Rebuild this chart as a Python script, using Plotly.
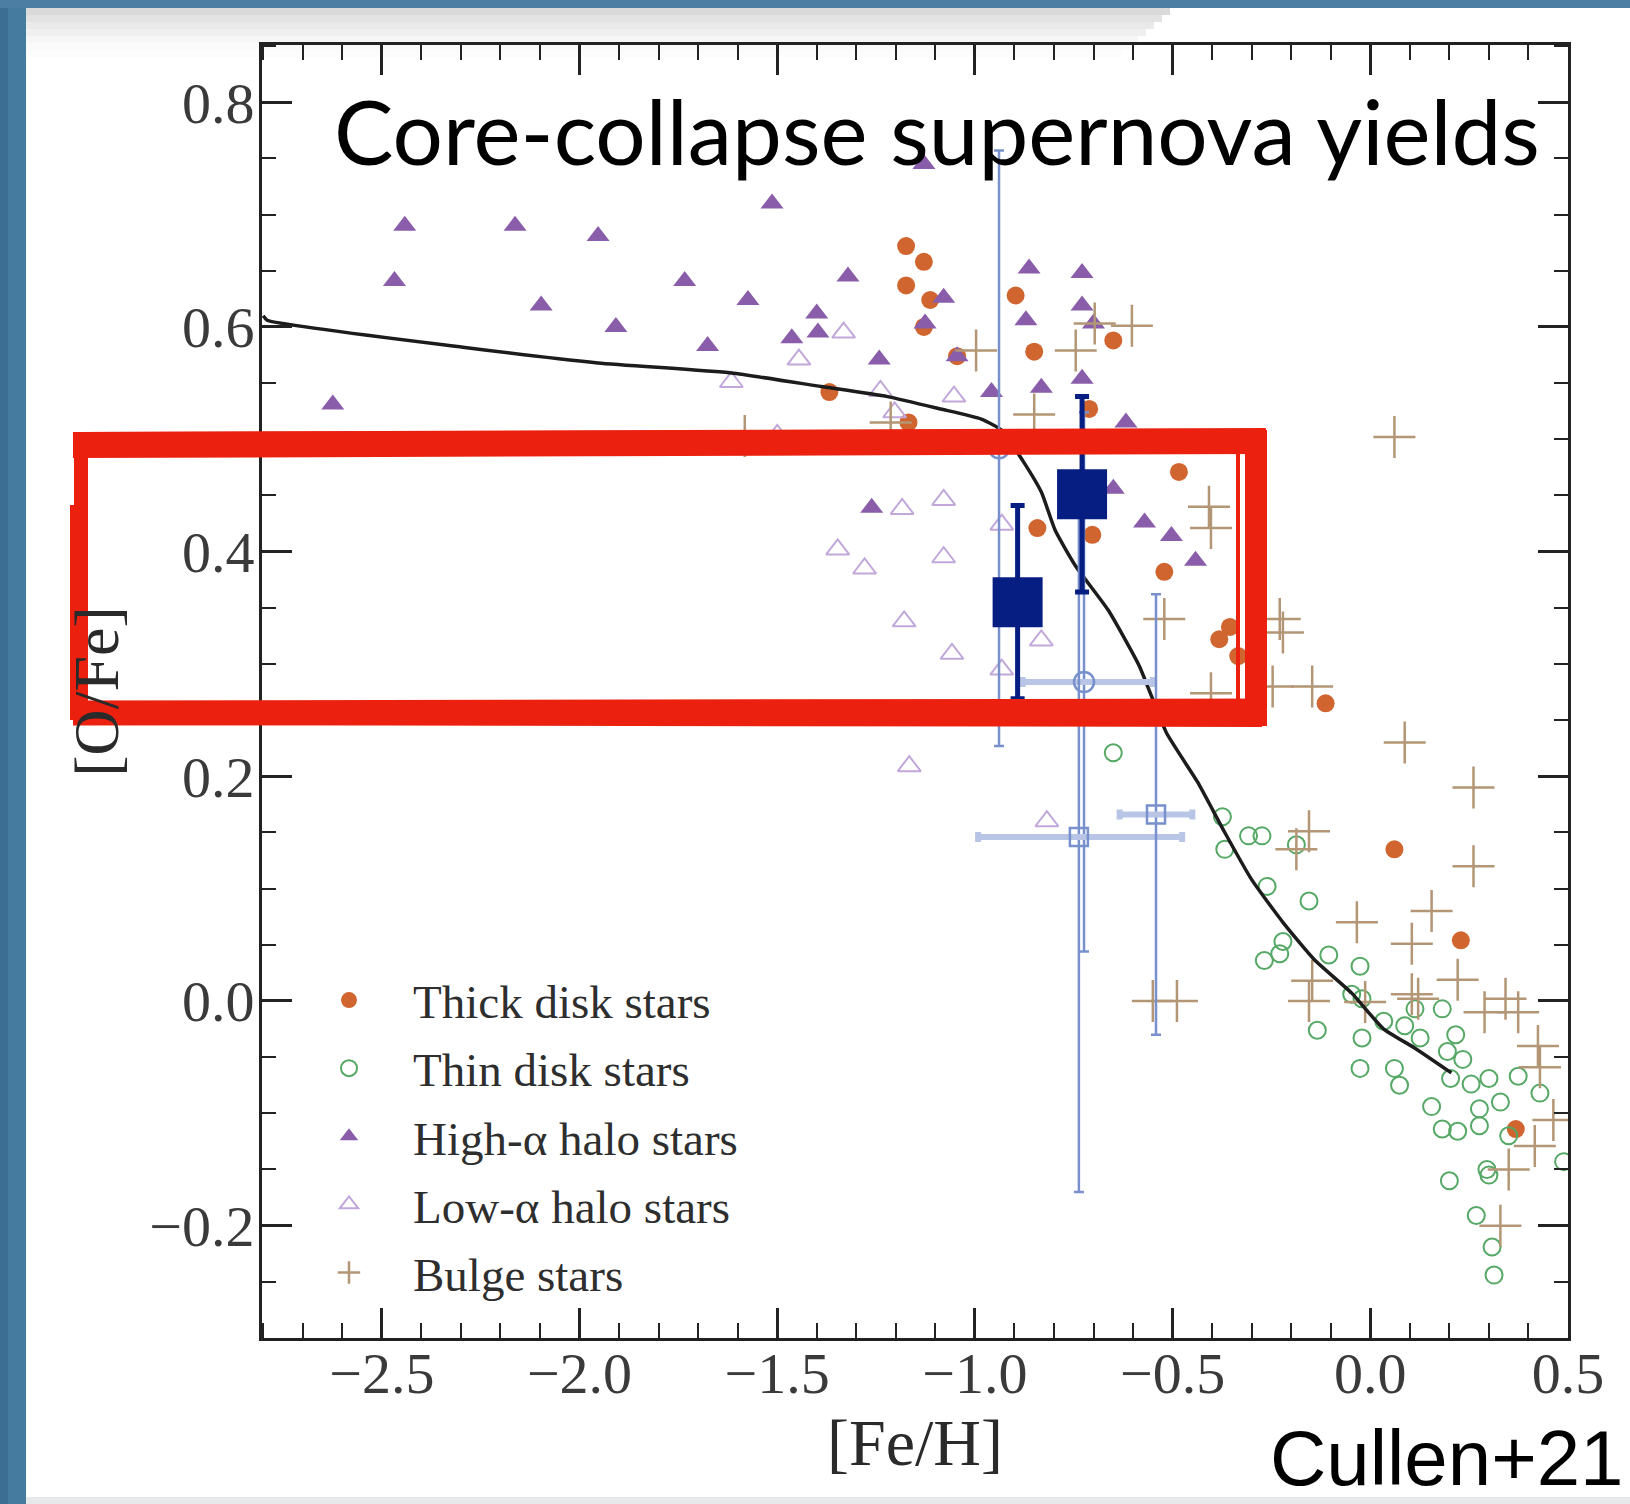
import plotly.graph_objects as go

# ---------------- data ----------------
thick_x = [-1.174, -1.129, -1.174, -1.113, -1.129, -1.045, -0.897, -0.850, -0.650, -0.711,
           -1.368, -1.168, -0.484, -0.842, -0.703, -0.521, -0.382, -0.355, -0.334, -0.113,
           0.061, 0.229, 0.368]
thick_y = [0.672, 0.658, 0.637, 0.624, 0.600, 0.574, 0.628, 0.578, 0.588, 0.527,
           0.542, 0.515, 0.471, 0.421, 0.415, 0.382, 0.322, 0.333, 0.307, 0.265,
           0.135, 0.054, -0.114]

thin_x = [-0.650, -0.374, -0.308, -0.274, -0.368, -0.187, -0.261, -0.155, -0.268, -0.229,
          -0.221, -0.105, -0.026, -0.047, -0.021, -0.134, -0.021, 0.034, 0.087, 0.113,
          0.182, 0.126, 0.216, -0.026, 0.061, 0.074, 0.195, 0.234, 0.203, 0.255,
          0.300, 0.374, 0.429, 0.155, 0.276, 0.329, 0.182, 0.221, 0.276, 0.350,
          0.489, 0.200, 0.295, 0.300, 0.268, 0.308, 0.313]
thin_y = [0.221, 0.164, 0.147, 0.147, 0.135, 0.139, 0.102, 0.089, 0.036, 0.042,
          0.053, 0.041, 0.031, 0.006, 0.002, -0.026, -0.033, -0.018, -0.022, -0.007,
          -0.007, -0.033, -0.030, -0.060, -0.060, -0.075, -0.045, -0.052, -0.069, -0.074,
          -0.069, -0.067, -0.082, -0.094, -0.096, -0.090, -0.114, -0.116, -0.111, -0.120,
          -0.143, -0.160, -0.150, -0.155, -0.191, -0.219, -0.244]

high_x = [-2.442, -2.163, -1.953, -1.513, -1.129, -2.468, -2.097, -1.908, -1.734, -1.574,
          -1.321, -1.400, -1.463, -1.397, -1.676, -1.242, -2.624, -1.079, -0.863, -0.729,
          -0.729, -0.871, -0.700, -0.958, -0.832, -0.729, -1.261, -0.571, -0.503, -0.442,
          -0.618, -0.650, -1.126, -1.045]
high_y = [0.690, 0.690, 0.681, 0.710, 0.745, 0.641, 0.619, 0.600, 0.641, 0.624,
          0.645, 0.612, 0.590, 0.595, 0.583, 0.571, 0.531, 0.626, 0.652, 0.648,
          0.619, 0.606, 0.603, 0.542, 0.546, 0.554, 0.439, 0.426, 0.414, 0.392,
          0.515, 0.456, 0.603, 0.574]

low_x = [-1.332, -1.445, -1.616, -1.053, -1.203, -1.500, -1.184, -1.079, -1.347, -1.279,
         -1.079, -1.179, -1.058, -0.932, -0.932, -0.832, -1.166, -0.818, -1.239]
low_y = [0.595, 0.571, 0.551, 0.538, 0.524, 0.504, 0.438, 0.446, 0.402, 0.385,
         0.395, 0.338, 0.309, 0.295, 0.424, 0.321, 0.209, 0.160, 0.543]

bulge_x = [-0.997, -0.697, -0.603, -0.745, -0.850, -1.213, -1.582, 0.061, -0.408, -0.403,
           -0.521, -0.229, -0.221, -0.403, -0.247, -0.147, 0.087, 0.261, -0.155, -0.187,
           0.261, 0.155, -0.034, 0.105, 0.221, -0.147, -0.550, -0.489, -0.155, -0.013,
           0.105, 0.121, 0.289, 0.342, 0.374, 0.424, 0.429, 0.463, 0.416, 0.350, 0.329]
bulge_y = [0.579, 0.603, 0.601, 0.579, 0.522, 0.515, 0.503, 0.502, 0.440, 0.421,
           0.340, 0.340, 0.328, 0.274, 0.280, 0.280, 0.230, 0.190, 0.151, 0.135,
           0.120, 0.080, 0.070, 0.051, 0.019, 0.018, 0.000, 0.000, 0.000, -0.001,
           0.006, 0.002, -0.010, 0.002, -0.010, -0.040, -0.059, -0.106, -0.129, -0.150, -0.200]

# model curve
model_x = [-2.80, -2.79, -2.295, -1.953, -1.616, -1.389, -1.221, -1.087, -0.984, -0.932,
           -0.879, -0.832, -0.797, -0.745, -0.663, -0.584, -0.516, -0.437, -0.368, -0.300,
           -0.221, -0.142, -0.047, 0.034, 0.113, 0.205]
model_y = [0.610, 0.606, 0.582, 0.568, 0.559, 0.547, 0.538, 0.527, 0.518, 0.508,
           0.481, 0.453, 0.419, 0.387, 0.348, 0.298, 0.239, 0.195, 0.150, 0.108,
           0.070, 0.037, 0.007, -0.025, -0.042, -0.064]

# Cullen+21 measurements (filled squares)
cullen_x = [-0.892, -0.729]
cullen_y = [0.355, 0.451]
cullen_yerr = [0.086, 0.087]
cullen_xerr = [0.045, 0.045]

# literature points (open symbols, light blue)
lit_circ_x = [-0.939, -0.724]
lit_circ_y = [0.492, 0.284]
lit_circ_xerr_plus = [0.0, 0.174]
lit_circ_xerr_minus = [0.0, 0.155]
lit_circ_yerr = [0.265, 0.240]

lit_sq_x = [-0.737, -0.542]
lit_sq_y = [0.146, 0.166]
lit_sq_xerr_plus = [0.261, 0.092]
lit_sq_xerr_minus = [0.255, 0.092]
lit_sq_yerr_plus = [0.316, 0.196]
lit_sq_yerr_minus = [0.316, 0.196]

x_range = [-2.803, 0.5]
y_range = [-0.30, 0.851]

# ---------------- layout helpers ----------------
W, H = 1630, 1504
L, R, T, B = 262, 1568, 45, 1338


def px(x):
    return (x - L) / (R - L)


def py(y):
    return (B - y) / (B - T)


SERIF = "Liberation Serif, DejaVu Serif, serif"
C_THICK = "#d0652f"
C_THIN = "#55a865"
C_HIGH = "#8a5daa"
C_LOW = "#c2a8da"
C_BULGE = "#b39675"
C_NAVY = "#061d82"
C_LIGHTBLUE = "#7890cc"

fig = go.Figure()

fig.add_trace(go.Scatter(x=thick_x, y=thick_y, mode="markers", name="Thick disk stars",
                         legendgroup="a",
                         marker=dict(symbol="circle", size=18, color=C_THICK)))
fig.add_trace(go.Scatter(x=thin_x, y=thin_y, mode="markers", name="Thin disk stars",
                         legendgroup="b",
                         marker=dict(symbol="circle-open", size=17, color=C_THIN,
                                     line=dict(width=2, color=C_THIN))))
fig.add_trace(go.Scatter(x=high_x, y=high_y, mode="markers", name="High-α halo stars",
                         legendgroup="c",
                         marker=dict(symbol="triangle-up", size=20, color=C_HIGH)))
fig.add_trace(go.Scatter(x=low_x, y=low_y, mode="markers", name="Low-α halo stars",
                         legendgroup="d",
                         marker=dict(symbol="triangle-up-open", size=20, color=C_LOW,
                                     line=dict(width=2, color=C_LOW))))
fig.add_trace(go.Scatter(x=bulge_x, y=bulge_y, mode="markers", name="Bulge stars",
                         legendgroup="e",
                         marker=dict(symbol="cross-thin", size=30, color=C_BULGE,
                                     line=dict(width=2.5, color=C_BULGE))))

fig.add_trace(go.Scatter(x=model_x, y=model_y, mode="lines", showlegend=False,
                         line=dict(color="#1c1c1c", width=3.5, shape="spline", smoothing=0.5)))

fig.add_trace(go.Scatter(x=lit_circ_x, y=lit_circ_y, mode="markers", showlegend=False,
                         marker=dict(symbol="circle-open", size=20, color=C_LIGHTBLUE,
                                     line=dict(width=2.5, color=C_LIGHTBLUE)),
                         error_x=dict(type="data", array=lit_circ_xerr_plus,
                                      arrayminus=lit_circ_xerr_minus, color="#b8c5e6",
                                      thickness=6, width=5),
                         error_y=dict(type="data", array=lit_circ_yerr, color=C_LIGHTBLUE,
                                      thickness=2.5, width=5)))
fig.add_trace(go.Scatter(x=lit_sq_x, y=lit_sq_y, mode="markers", showlegend=False,
                         marker=dict(symbol="square-open", size=18, color=C_LIGHTBLUE,
                                     line=dict(width=2.5, color=C_LIGHTBLUE)),
                         error_x=dict(type="data", array=lit_sq_xerr_plus,
                                      arrayminus=lit_sq_xerr_minus, color="#b8c5e6",
                                      thickness=6, width=5),
                         error_y=dict(type="data", array=lit_sq_yerr_plus,
                                      arrayminus=lit_sq_yerr_minus, color=C_LIGHTBLUE,
                                      thickness=2.5, width=5)))
fig.add_trace(go.Scatter(x=cullen_x, y=cullen_y, mode="markers", showlegend=False,
                         marker=dict(symbol="square", size=50, color=C_NAVY),
                         error_x=dict(type="data", array=cullen_xerr, color=C_NAVY,
                                      thickness=5, width=0),
                         error_y=dict(type="data", array=cullen_yerr, color=C_NAVY,
                                      thickness=5, width=7)))

axis_common = dict(showline=True, linecolor="#222222", linewidth=3, mirror="ticks",
                   ticks="inside", tickwidth=2.5, tickcolor="#222222", ticklen=30,
                   showgrid=False, zeroline=False, tickformat=".1f",
                   tickfont=dict(family=SERIF, size=58, color="#3a3a3a"))

fig.update_xaxes(range=x_range, dtick=0.5, tick0=0, ticklabelstandoff=-18,
                 minor=dict(ticks="inside", ticklen=15, dtick=0.1, tick0=0,
                            tickwidth=2, tickcolor="#222222"),
                 title=dict(text="[Fe/H]", font=dict(family=SERIF, size=66, color="#2a2a2a"),
                            standoff=8),
                 **axis_common)
fig.update_yaxes(range=y_range, dtick=0.2, tick0=0, ticklabelstandoff=-7,
                 minor=dict(ticks="inside", ticklen=14, dtick=0.05, tick0=0,
                            tickwidth=2, tickcolor="#222222"),
                 title=dict(text="[O/Fe]", font=dict(family=SERIF, size=64, color="#2a2a2a"),
                            standoff=10),
                 **axis_common)

shapes = []
# slide background decorations
shapes.append(dict(type="rect", xref="paper", yref="paper", x0=px(0), x1=px(26),
                   y0=py(H), y1=py(0), fillcolor="#467ba0", line=dict(width=0), layer="below"))
shapes.append(dict(type="rect", xref="paper", yref="paper", x0=px(0), x1=px(8),
                   y0=py(H), y1=py(0), fillcolor="#3c6d92", line=dict(width=0), layer="below"))
shapes.append(dict(type="rect", xref="paper", yref="paper", x0=px(0), x1=px(W),
                   y0=py(8), y1=py(0), fillcolor="#4b7ea2", line=dict(width=0), layer="below"))
for i, op in enumerate([0.28, 0.22, 0.16, 0.11, 0.07, 0.04, 0.02]):
    shapes.append(dict(type="rect", xref="paper", yref="paper", x0=px(26), x1=px(1170 - i * 8),
                       y0=py(8 + 7 * (i + 1)), y1=py(8 + 7 * i), fillcolor="#7a7a7a",
                       opacity=op, line=dict(width=0), layer="below"))
shapes.append(dict(type="rect", xref="paper", yref="paper", x0=px(26), x1=px(W),
                   y0=py(H), y1=py(1497), fillcolor="#e6e8ea", line=dict(width=0), layer="below"))

# hand-drawn red highlight box
RED = "#eb200f"
red_segments = [
    ((73, 445), (1266, 441), 26),
    ((82, 434), (1260, 431), 4),
    ((73, 713), (1266, 711), 25),
    ((90, 723), (1262, 725), 4),
    ((81, 432), (81, 724), 14),
    ((72, 505), (72, 720), 4),
    ((1256, 430), (1256, 726), 22),
    ((1238, 448), (1238, 705), 4),
]
for (x0, y0), (x1, y1), w in red_segments:
    shapes.append(dict(type="line", xref="paper", yref="paper", x0=px(x0), y0=py(y0),
                       x1=px(x1), y1=py(y1), line=dict(color=RED, width=w), layer="above"))

annotations = [
    dict(text="Core-collapse supernova yields", xref="paper", yref="paper",
         x=px(937), y=py(130), xanchor="center", yanchor="middle", showarrow=False,
         font=dict(family="Lato, Open Sans, sans-serif", size=89, color="#000000")),
    dict(text="Cullen+21", xref="paper", yref="paper",
         x=px(1624), y=py(1503), xanchor="right", yanchor="bottom", showarrow=False,
         borderpad=0,
         font=dict(family="Liberation Sans, Arial, sans-serif", size=78, color="#000000")),
]

fig.update_layout(
    width=W, height=H,
    margin=dict(l=L, r=W - R, t=T, b=H - B),
    paper_bgcolor="#ffffff", plot_bgcolor="#ffffff",
    shapes=shapes, annotations=annotations,
    legend=dict(x=px(285), y=py(963), xanchor="left", yanchor="top",
                bgcolor="rgba(0,0,0,0)", borderwidth=0, itemwidth=118,
                tracegroupgap=4,
                font=dict(family=SERIF, size=47, color="#2e2e2e")),
    showlegend=True,
)

fig.write_html("out.html")
